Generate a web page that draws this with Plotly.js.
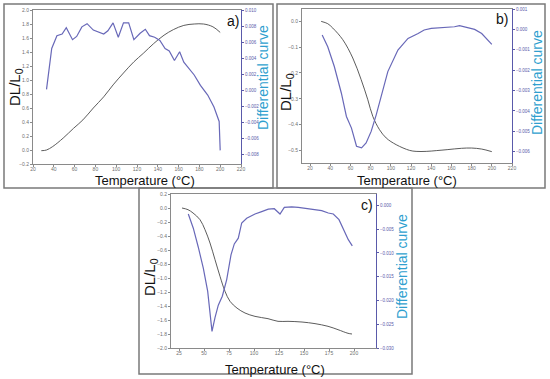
<!DOCTYPE html>
<html>
<head>
<meta charset="utf-8">
<script src="https://cdn.plot.ly/plotly-3.0.1.min.js"></script>
<style>html,body{margin:0;padding:0;background:#fff}#chart{width:550px;height:379px}</style>
</head>
<body>
<div id="chart"></div>
<script>
// ---- Panel a) ----
const tempA_DL = [28, 33, 39, 49, 59, 68, 78, 88, 97, 107, 117, 126, 136, 146, 155, 165, 175, 184, 193, 200];
const dlA = [-0.01, 0.0, 0.05, 0.17, 0.31, 0.43, 0.6, 0.76, 0.93, 1.1, 1.26, 1.38, 1.52, 1.64, 1.72, 1.78, 1.80, 1.80, 1.76, 1.68];
const tempA_D = [33, 38, 43, 48, 52, 58, 62, 67, 72, 78, 88, 92, 97, 102, 107, 112, 117, 123, 128, 132, 137, 142, 147, 151, 156, 161, 165, 170, 175, 181, 188, 194, 199, 200];
const diffA = [0.0001, 0.0052, 0.0068, 0.0070, 0.0078, 0.0063, 0.0067, 0.0079, 0.0083, 0.0075, 0.0070, 0.0074, 0.0084, 0.0066, 0.0084, 0.0084, 0.0063, 0.0071, 0.0076, 0.0068, 0.0066, 0.0062, 0.0052, 0.0049, 0.0037, 0.0048, 0.0035, 0.0027, 0.0019, 0.0006, -0.0006, -0.0021, -0.0039, -0.0075];

// ---- Panel b) ----
const tempB_DL = [31, 37.5, 42.5, 52.4, 62.3, 70.6, 77.2, 82.1, 88.8, 95.4, 105.3, 118.5, 125, 135, 145, 156.5, 170, 180, 190, 200];
const dlB = [0.0, -0.009, -0.026, -0.071, -0.142, -0.226, -0.304, -0.368, -0.42, -0.452, -0.478, -0.5, -0.504, -0.504, -0.501, -0.497, -0.492, -0.491, -0.495, -0.505];
const tempB_D = [32, 37.5, 44, 51, 56, 61, 66, 71, 75.5, 80.5, 85.5, 90.5, 97, 107, 117, 127, 133, 140, 150, 163, 168, 173, 183, 190, 196, 200];
const diffB = [-0.00028, -0.00085, -0.00182, -0.00313, -0.00427, -0.00484, -0.00573, -0.00581, -0.00557, -0.005, -0.00419, -0.00329, -0.00207, -0.00101, -0.00044, -0.0002, -0.00003, 0.00005, 0.00008, 0.00013, 0.00018, 0.00013, 0.0, -0.0002, -0.00052, -0.00073];

// ---- Panel c) ----
const tempC_DL = [28, 34, 39, 46, 51, 56, 61, 66, 71, 76, 83, 91, 101, 114, 124, 134, 148, 161, 174, 184, 194, 198];
const dlC = [0.0, -0.024, -0.071, -0.167, -0.31, -0.5, -0.738, -0.976, -1.19, -1.333, -1.43, -1.5, -1.548, -1.581, -1.619, -1.619, -1.629, -1.652, -1.69, -1.738, -1.79, -1.80];
const tempC_D = [34.3, 39.3, 44.3, 49.3, 53.7, 58, 61, 64.3, 68.3, 72.7, 77, 80.3, 84.3, 87.7, 92.7, 101, 107.7, 114.3, 120.3, 126, 130.3, 137.7, 144.3, 151, 161, 167.7, 174.3, 179.3, 185, 189.3, 194.3, 198.3];
const diffC = [-0.0018, -0.0048, -0.0088, -0.0132, -0.0181, -0.0265, -0.0236, -0.021, -0.0191, -0.0156, -0.0104, -0.0081, -0.0069, -0.0037, -0.0027, -0.0018, -0.0013, -0.0008, -0.0007, -0.0018, -0.0004, -0.0003, -0.0004, -0.0006, -0.0008, -0.0011, -0.0016, -0.0018, -0.003, -0.0048, -0.0072, -0.0085];

const panelLabels = ['a)', 'b)', 'c)'];
const xTitle = 'Temperature (°C)';
const yTitle = 'DL/L<sub>0</sub>';
const y2Title = 'Differential curve';

const W = 550, H = 379;
const px = v => v / W;
const py = v => 1 - v / H;

const dlColor = '#4a4a4a';
const diffColor = '#6868b8';
const axisGray = '#8a8a8a';
const tickGray = '#707070';
const rightAxisColor = '#5a5aaa';
const titleCyan = '#2f9fcf';
const FONT = 'Liberation Sans, Arial, sans-serif';

const traces = [
  {x: tempA_DL, y: dlA, xaxis: 'x', yaxis: 'y', mode: 'lines', line: {color: dlColor, width: 0.9, shape: 'spline'}, hoverinfo: 'skip'},
  {x: tempA_D, y: diffA, xaxis: 'x', yaxis: 'y2', mode: 'lines', line: {color: diffColor, width: 1.2}, hoverinfo: 'skip'},
  {x: tempB_DL, y: dlB, xaxis: 'x2', yaxis: 'y3', mode: 'lines', line: {color: dlColor, width: 0.9, shape: 'spline'}, hoverinfo: 'skip'},
  {x: tempB_D, y: diffB, xaxis: 'x2', yaxis: 'y4', mode: 'lines', line: {color: diffColor, width: 1.2}, hoverinfo: 'skip'},
  {x: tempC_DL, y: dlC, xaxis: 'x3', yaxis: 'y5', mode: 'lines', line: {color: dlColor, width: 0.9, shape: 'spline'}, hoverinfo: 'skip'},
  {x: tempC_D, y: diffC, xaxis: 'x3', yaxis: 'y6', mode: 'lines', line: {color: diffColor, width: 1.2}, hoverinfo: 'skip'}
];

function xAx(domain, range, dtick, anchor) {
  return {
    domain: domain, range: range, dtick: dtick, tick0: 0, anchor: anchor,
    showline: true, linecolor: axisGray, linewidth: 1, mirror: true,
    ticks: 'outside', ticklen: 2, tickcolor: axisGray, showgrid: false, zeroline: false,
    ticklabelstandoff: -2,
    tickfont: {size: 5, color: tickGray, family: FONT},
    automargin: false
  };
}
function yAx(domain, range, dtick, anchor) {
  return {
    domain: domain, range: range, dtick: dtick, tick0: 0, anchor: anchor, tickformat: '.1f',
    showline: true, linecolor: axisGray, linewidth: 1,
    ticks: 'outside', ticklen: 2, tickcolor: axisGray, showgrid: false, zeroline: false,
    tickfont: {size: 5, color: tickGray, family: FONT},
    automargin: false
  };
}
function y2Ax(overlay, range, dtick, anchor) {
  return {
    overlaying: overlay, side: 'right', range: range, dtick: dtick, tick0: 0, anchor: anchor, tickformat: '.3f',
    showline: true, linecolor: rightAxisColor, linewidth: 1,
    ticks: 'outside', ticklen: 2, tickcolor: rightAxisColor, showgrid: false, zeroline: false,
    tickfont: {size: 4.5, color: rightAxisColor, family: FONT},
    automargin: false
  };
}

const frameA = [4, 4, 273, 188];
const frameB = [277, 4, 545, 188];
const frameC = [139, 188, 412, 374];
const frames = [frameA, frameB, frameC].map(f => ({
  type: 'rect', xref: 'paper', yref: 'paper',
  x0: px(f[0]), x1: px(f[2]), y0: py(f[3]), y1: py(f[1]),
  line: {color: '#7a7a7a', width: 1.5}, fillcolor: 'rgba(0,0,0,0)'
}));

function ann(text, x, y, size, color, angle) {
  return {
    text: text, xref: 'paper', yref: 'paper', x: px(x), y: py(y),
    xanchor: 'center', yanchor: 'middle', showarrow: false, textangle: angle || 0,
    borderpad: 0,
    font: {size: size, color: color, family: FONT}
  };
}

// [label x,y], [DL/L0 x,y], [Temperature x,y], [Differential x,y]
const textPos = [
  [[233, 21], [15, 87], [145, 180.5], [263, 78]],
  [[502, 19], [287, 92], [407, 180.5], [537, 83]],
  [[367, 205], [150, 277], [275, 369], [402, 267]]
];
const annotations = [];
textPos.forEach((p, i) => {
  annotations.push(ann(panelLabels[i], p[0][0], p[0][1], 14, '#111'));
  annotations.push(ann(yTitle, p[1][0], p[1][1], 15, '#111', -90));
  annotations.push(ann(xTitle, p[2][0], p[2][1], 13, '#111'));
  annotations.push(ann(y2Title, p[3][0], p[3][1], 14, titleCyan, -90));
});

const layout = {
  width: W, height: H, margin: {l: 0, r: 0, t: 0, b: 0},
  paper_bgcolor: '#ffffff', plot_bgcolor: '#ffffff', showlegend: false,
  font: {family: FONT},
  xaxis: xAx([px(33), px(241)], [20, 220], 20, 'y'),
  yaxis: yAx([py(164), py(10)], [-0.2, 2.0], 0.2, 'x'),
  yaxis2: y2Ax('y', [-0.0092, 0.010], 0.002, 'x'),
  xaxis2: xAx([px(302), px(512)], [12, 220], 20, 'y3'),
  yaxis3: yAx([py(163), py(9)], [-0.549, 0.048], 0.1, 'x2'),
  yaxis4: y2Ax('y3', [-0.00655, 0.001], 0.001, 'x2'),
  xaxis3: xAx([px(171), px(376)], [17, 222], 25, 'y5'),
  yaxis5: yAx([py(348), py(194)], [-2.0, 0.2], 0.2, 'x3'),
  yaxis6: y2Ax('y5', [-0.030, 0.0024], 0.005, 'x3'),
  shapes: frames,
  annotations: annotations
};

Plotly.newPlot('chart', traces, layout, {staticPlot: true, displayModeBar: false});
</script>
</body>
</html>
